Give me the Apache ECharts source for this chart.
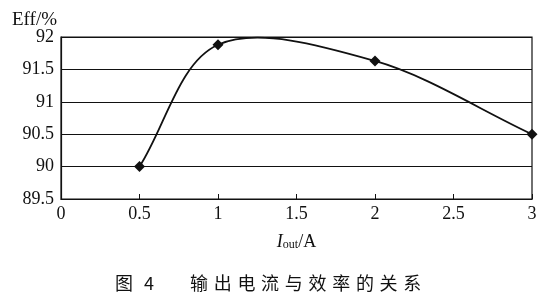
<!DOCTYPE html>
<html><head><meta charset="utf-8">
<script src="https://cdn.jsdelivr.net/npm/echarts@6/dist/echarts.min.js"></script>
<style>html,body{margin:0;padding:0;background:#fff;}#c{width:551px;height:303px;}</style>
</head><body><div id="c"></div>
<script>
var xValues = [0.5, 1, 2, 3];
var effValues = [90.0, 91.88, 91.63, 90.5];
var xTicks = [0, 0.5, 1, 1.5, 2, 2.5, 3];
var yTicks = [89.5, 90, 90.5, 91, 91.5, 92];
var yAxisName = 'Eff/%';
var captionChars = ['图', '4', '', '输', '出', '电', '流', '与', '效', '率', '的', '关', '系'];

var serif = '"Liberation Serif","Times New Roman",serif';
var chart = echarts.init(document.getElementById('c'), null, {renderer: 'canvas'});

function curveItem(params, api) {
  var p = xValues.map(function (x, i) { return api.coord([x, effValues[i]]); });
  var n = p.length;
  var d = 'M' + p[0][0] + ' ' + p[0][1];
  function tan(i) {
    if (i === 0) return [p[1][0] - p[0][0], p[1][1] - p[0][1]];
    if (i === n - 1) return [p[n - 1][0] - p[n - 2][0], p[n - 1][1] - p[n - 2][1]];
    return [(p[i + 1][0] - p[i - 1][0]) / 2, (p[i + 1][1] - p[i - 1][1]) / 2];
  }
  for (var i = 0; i < n - 1; i++) {
    var t0 = tan(i), t1 = tan(i + 1);
    var c1 = [p[i][0] + t0[0] / 3, p[i][1] + t0[1] / 3];
    var c2 = [p[i + 1][0] - t1[0] / 3, p[i + 1][1] - t1[1] / 3];
    d += ' C' + c1[0] + ' ' + c1[1] + ' ' + c2[0] + ' ' + c2[1] + ' ' + p[i + 1][0] + ' ' + p[i + 1][1];
  }
  return {type: 'path', shape: {pathData: d}, style: {fill: 'none', stroke: '#111', lineWidth: 1.8}};
}

var graphics = [{type: 'text', left: 12, top: 11, style: {text: yAxisName, font: '19px ' + serif, fill: '#111'}}];
var capStart = 115, capPitch = 23.7;
captionChars.forEach(function (ch, i) {
  if (!ch) return;
  var x = i < 2 ? capStart + i * 29 : 190 + (i - 3) * capPitch;
  graphics.push({type: 'text', left: x, top: 274,
    style: {text: ch, font: '18px "Noto Sans CJK SC"', fill: '#111'}});
});

chart.setOption({
  animation: false,
  backgroundColor: '#fff',
  grid: {left: 61, right: 19, top: 37, bottom: 104, show: true, borderColor: '#111', borderWidth: 1.2},
  xAxis: {
    type: 'value', min: xTicks[0], max: xTicks[xTicks.length - 1], interval: 0.5,
    axisLine: {show: true, lineStyle: {color: '#111', width: 1.2}},
    axisTick: {show: true, inside: true, length: 5, lineStyle: {color: '#111'}},
    splitLine: {show: false},
    axisLabel: {color: '#111', fontFamily: serif, fontSize: 18, margin: 6,
      formatter: function (v) { return String(v); }},
    name: '{i|I}{s|out}{n|/A}', nameLocation: 'middle', nameGap: 34,
    nameTextStyle: {rich: {
      i: {fontFamily: serif, fontStyle: 'italic', fontSize: 18, color: '#111'},
      s: {fontFamily: serif, fontSize: 12, color: '#111', verticalAlign: 'bottom', padding: [6, 0, 0, 0]},
      n: {fontFamily: serif, fontSize: 18, color: '#111'}
    }}
  },
  yAxis: {
    type: 'value', min: yTicks[0], max: yTicks[yTicks.length - 1], interval: 0.5,
    axisLine: {show: true, lineStyle: {color: '#111', width: 1.2}},
    axisTick: {show: false},
    splitLine: {show: true, lineStyle: {color: '#111', width: 1.2}},
    axisLabel: {color: '#111', fontFamily: serif, fontSize: 18, margin: 7, padding: [6, 0, 0, 0],
      formatter: function (v) { return String(v); }}
  },
  graphic: graphics,
  series: [{
    type: 'custom', renderItem: curveItem, clip: false, z: 2,
    data: [[xValues[0], effValues[0]]], silent: true
  }, {
    type: 'line', z: 3,
    data: xValues.map(function (x, i) { return [x, effValues[i]]; }),
    symbol: 'diamond', symbolSize: 11,
    itemStyle: {color: '#111'},
    lineStyle: {width: 0, opacity: 0}
  }]
});
</script></body></html>
